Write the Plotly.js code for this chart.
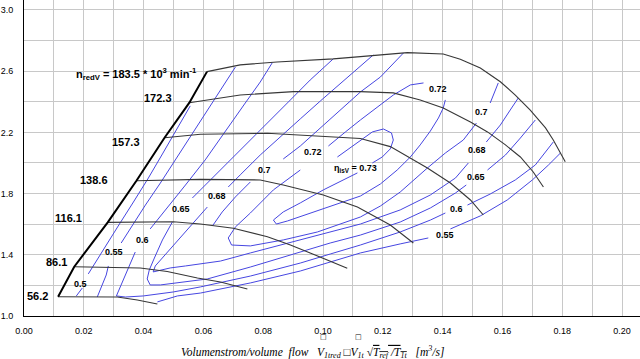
<!DOCTYPE html>
<html><head><meta charset="utf-8">
<script src="https://cdn.plot.ly/plotly-3.0.1.min.js"></script>
<style>html,body{margin:0;padding:0;background:#fff;}#chart{width:640px;height:359px;}</style>
</head><body><div id="chart"></div>
<script>
// ---- speed lines (n_redV, 10^3 min^-1) ----
const surge_x = [0.0114,0.0168,0.0280,0.0376,0.0470,0.0553,0.0612];
const surge_y = [1.126,1.322,1.612,1.884,2.165,2.394,2.597];
const n562_x = [0.0114,0.0312,0.0379,0.0446];
const n562_y = [1.126,1.124,1.105,1.078];
const n861_x = [0.0168,0.0389,0.0479,0.0580,0.0657,0.0747];
const n861_y = [1.322,1.314,1.291,1.248,1.222,1.176];
const n1161_x = [0.0280,0.0499,0.0590,0.0700,0.0814,0.0891,0.0957,0.1014,0.1081];
const n1161_y = [1.612,1.616,1.601,1.573,1.518,1.464,1.412,1.366,1.312];
const n1386_x = [0.0376,0.0590,0.0790,0.0867,0.1001,0.1115,0.1225,0.1302];
const n1386_y = [1.884,1.893,1.889,1.856,1.791,1.712,1.595,1.477];
const n1573_x = [0.0470,0.0590,0.0814,0.1034,0.1125,0.1225,0.1349,0.1426,0.1493,0.1536];
const n1573_y = [2.165,2.188,2.194,2.172,2.160,2.107,1.967,1.869,1.758,1.660];
const n1723_x = [0.0553,0.0723,0.0901,0.1125,0.1235,0.1325,0.1402,0.1493,0.1550,0.1610,0.1660,0.1703,0.1737];
const n1723_y = [2.394,2.444,2.466,2.466,2.458,2.412,2.359,2.268,2.203,2.118,2.039,1.941,1.843];
const n1835_x = [0.0612,0.0723,0.0846,0.1034,0.1125,0.1282,0.1402,0.1459,0.1526,0.1593,0.1643,0.1693,0.1744,0.1770,0.1810];
const n1835_y = [2.597,2.641,2.660,2.680,2.695,2.721,2.712,2.678,2.621,2.531,2.444,2.346,2.229,2.150,2.008];

// ---- efficiency contours (eta_isV) ----
const eta050_x = [0.0175,0.0195,null,0.0215,0.0262,0.0315,0.0366,0.0416,0.0463,0.0509,0.0556];
const eta050_y = [1.131,1.183,null,1.275,1.418,1.588,1.745,1.902,2.059,2.216,2.373];
const eta055a_x = [0.0245,0.0259,0.0275,0.0282,null,0.0325,0.0356,0.0406,0.0456,0.0506,0.0556,0.0606,0.0657,0.0707];
const eta055a_y = [1.124,1.190,1.268,1.327,null,1.477,1.575,1.725,1.869,2.020,2.170,2.327,2.477,2.627];
const eta055b_x = [0.0446,0.0513,0.0590,0.0757,0.0924,0.1024,0.1125,0.1258,0.1352,null,0.1426,0.1526,0.1616,0.1700,0.1754,0.1794];
const eta055b_y = [1.092,1.131,1.150,1.216,1.294,1.353,1.412,1.471,1.510,null,1.569,1.654,1.758,1.889,1.987,2.065];
const eta060_x = [0.0830,0.0790,0.0740,0.0673,0.0606,0.0540,0.0473,0.0422,null,0.0372,0.0349,0.0325,0.0309,0.0339,0.0399,0.0499,0.0590,0.0757,0.0924,0.1024,0.1125,0.1258,0.1359,0.1409,null,0.1483,0.1559,0.1643,0.1710,0.1770];
const eta060_y = [2.654,2.529,2.392,2.203,2.020,1.856,1.693,1.569,null,1.418,1.314,1.209,1.131,1.124,1.131,1.157,1.190,1.261,1.346,1.405,1.464,1.549,1.627,1.673,null,1.725,1.797,1.889,1.987,2.137];
const eta065_x = [0.1034,0.0957,0.0891,0.0824,0.0757,0.0690,0.0623,0.0563,null,0.0496,0.0463,0.0436,0.0419,0.0412,0.0422,0.0456,0.0513,0.0613,0.0757,0.0924,0.1024,0.1125,0.1258,0.1359,0.1443,0.1479,null,0.1550,0.1610,0.1660,0.1710];
const eta065_y = [2.680,2.542,2.412,2.281,2.150,2.020,1.889,1.771,null,1.614,1.497,1.379,1.301,1.242,1.203,1.203,1.216,1.242,1.320,1.418,1.477,1.529,1.614,1.706,1.804,1.856,null,1.954,2.052,2.163,2.281];
const eta068_x = [0.1168,0.1125,0.1058,0.0991,0.0924,0.0857,0.0790,0.0723,0.0683,null,0.0613,0.0563,0.0516,0.0473,0.0439,0.0432,0.0456,0.0489,0.0540,0.0590,0.0657,0.0757,0.0924,0.1024,0.1125,0.1258,0.1359,0.1443,0.1486,null,0.1546,0.1593,0.1626,0.1653];
const eta068_y = [2.706,2.634,2.523,2.405,2.288,2.170,2.052,1.922,1.843,null,1.712,1.601,1.497,1.399,1.327,1.288,1.301,1.314,1.327,1.340,1.359,1.412,1.497,1.549,1.601,1.693,1.791,1.902,2.000,null,2.137,2.248,2.346,2.425];
const eta070_x = [0.1269,0.1192,0.1125,0.1058,0.0991,0.0924,0.0867,null,0.0757,0.0707,0.0663,0.0630];
const eta070_y = [2.719,2.562,2.464,2.346,2.229,2.111,2.026,null,1.876,1.778,1.680,1.588];
const eta072_x = [0.1336,0.1292,0.1235,0.1168,0.1125,0.1075,0.1018,null,0.0924,0.0834,0.0757,0.0707,0.0683,0.0694,0.0757,0.0867,0.0981,0.1125,0.1192,0.1258,0.1349,0.1409,0.1469,0.1513,null,0.1559,0.1586];
const eta072_y = [2.523,2.510,2.444,2.346,2.281,2.203,2.111,null,1.954,1.824,1.673,1.582,1.510,1.464,1.458,1.497,1.549,1.647,1.719,1.810,1.967,2.065,2.150,2.261,null,2.392,2.523];
const eta072b_x = [0.1115,0.1068,0.1001,0.0924,0.0867,0.0834,0.0844,0.0881,0.0957,0.1034,0.1125,0.1192,0.1248,0.1292,0.1325,0.1359,0.1386,0.1402,0.1409];
const eta072b_y = [1.935,1.889,1.824,1.739,1.680,1.627,1.601,1.621,1.673,1.725,1.784,1.863,1.954,2.039,2.118,2.209,2.294,2.359,2.412];
const eta073_x = [0.1048,0.1085,0.1125,0.1165,0.1202,0.1229,0.1235,0.1225,0.1198,0.1165];
const eta073_y = [2.039,2.092,2.150,2.203,2.222,2.196,2.150,2.092,2.039,2.000];

// ---- labels ----
const speedLabelText = ['56.2','86.1','116.1','138.6','157.3','172.3'];
const speedLabelX = [0.0088,0.0149,0.0202,0.0289,0.0395,0.0500];
const speedLabelY = [1.131,1.353,1.641,1.889,2.135,2.425];
const effLabelText = ['0.5','0.55','0.6','0.65','0.68','0.7','0.72','η<sub>isV</sub> = 0.73','0.72','0.7','0.68','0.65','0.6','0.55'];
const effLabelX = [0.0190,0.0302,0.0396,0.0526,0.0647,0.0804,0.0968,0.1108,0.1386,0.1530,0.1516,0.1513,0.1446,0.1409];
const effLabelY = [1.209,1.418,1.497,1.699,1.784,1.954,2.072,1.967,2.484,2.333,2.085,1.908,1.699,1.529];

const blue = 'rgb(70,70,225)';
const dark = 'rgb(55,55,55)';
const traces = [];
function line(x, y, color, width){
  traces.push({x:x, y:y, type:'scatter', mode:'lines', connectgaps:false, hoverinfo:'skip',
    line:{color:color, width:width}});
}
[[eta050_x,eta050_y],[eta055a_x,eta055a_y],[eta055b_x,eta055b_y],[eta060_x,eta060_y],
 [eta065_x,eta065_y],[eta068_x,eta068_y],[eta070_x,eta070_y],[eta072_x,eta072_y],
 [eta072b_x,eta072b_y],[eta073_x,eta073_y]].forEach(p=>line(p[0],p[1],blue,1));
[[n562_x,n562_y],[n861_x,n861_y],[n1161_x,n1161_y],[n1386_x,n1386_y],[n1573_x,n1573_y],
 [n1723_x,n1723_y],[n1835_x,n1835_y]].forEach(p=>line(p[0],p[1],dark,1.1));
line(surge_x, surge_y, '#000', 2);

const F = 'Liberation Sans, Arial, sans-serif';
const ann = [];
speedLabelText.forEach((t,i)=>ann.push({x:speedLabelX[i], y:speedLabelY[i], xref:'x', yref:'y',
  text:'<b>'+t+'</b>', showarrow:false, xanchor:'right', yanchor:'middle',
  font:{family:F, size:11, color:'#000'}}));
effLabelText.forEach((t,i)=>ann.push({x:effLabelX[i], y:effLabelY[i], xref:'x', yref:'y',
  text:'<b>'+t+'</b>', showarrow:false, xanchor:'center', yanchor:'middle',
  font:{family:F, size:9, color:'#000'}}));
ann.push({x:0.0584, y:2.582, xref:'x', yref:'y', showarrow:false, xanchor:'right', yanchor:'middle',
  text:'<b>n<sub>redV</sub> = 183.5 * 10<sup>3</sup> min<sup>-1</sup></b>', font:{family:F, size:11, color:'#000'}});
ann.push({x:0.468, y:-0.113, xref:'paper', yref:'paper', showarrow:false, xanchor:'center', yanchor:'middle',
  text:'<i>Volumenstrom/volume\u00a0\u00a0flow\u00a0\u00a0\u00a0V<sub>1tred</sub>\u00a0□V<sub>1t</sub>\u00a0√<span style="text-decoration:overline">T<sub>ref</sub>\u00a0/T<sub>1t</sub></span>\u00a0\u00a0\u00a0[m<sup>3</sup>/s]</i>',
  font:{family:'Liberation Serif, Times New Roman, serif', size:11.5, color:'#000'}});
ann.push({x:0.487, y:-0.084, xref:'paper', yref:'paper', showarrow:false, text:'□', font:{family:'DejaVu Sans', size:7, color:'#000'}});
ann.push({x:0.543, y:-0.084, xref:'paper', yref:'paper', showarrow:false, text:'□', font:{family:'DejaVu Sans', size:7, color:'#000'}});

const grid = 'rgb(200,200,200)';
const layout = {
  width:640, height:359, margin:{l:24, r:0, t:0, b:43}, showlegend:false,
  paper_bgcolor:'#fff', plot_bgcolor:'#fff',
  xaxis:{range:[0,0.206], dtick:0.02, tick0:0, tickformat:'.2f', showgrid:true, gridcolor:grid, gridwidth:1,
    minor:{dtick:0.01, showgrid:true, gridcolor:grid, gridwidth:1},
    showline:true, linecolor:'#000', linewidth:1, zeroline:false, ticks:'', ticklabelstandoff:6,
    tickfont:{family:F, size:9, color:'#000'}},
  yaxis:{range:[1.0,3.065], dtick:0.4, tick0:1.0, tickformat:'.1f', showgrid:true, gridcolor:grid, gridwidth:1,
    minor:{dtick:0.2, showgrid:true, gridcolor:grid, gridwidth:1},
    showline:true, linecolor:'#000', linewidth:1, zeroline:false, ticks:'', ticklabelstandoff:8,
    tickfont:{family:F, size:9, color:'#000'}},
  annotations: ann
};
Plotly.newPlot('chart', traces, layout, {displayModeBar:false, staticPlot:true});
</script></body></html>
